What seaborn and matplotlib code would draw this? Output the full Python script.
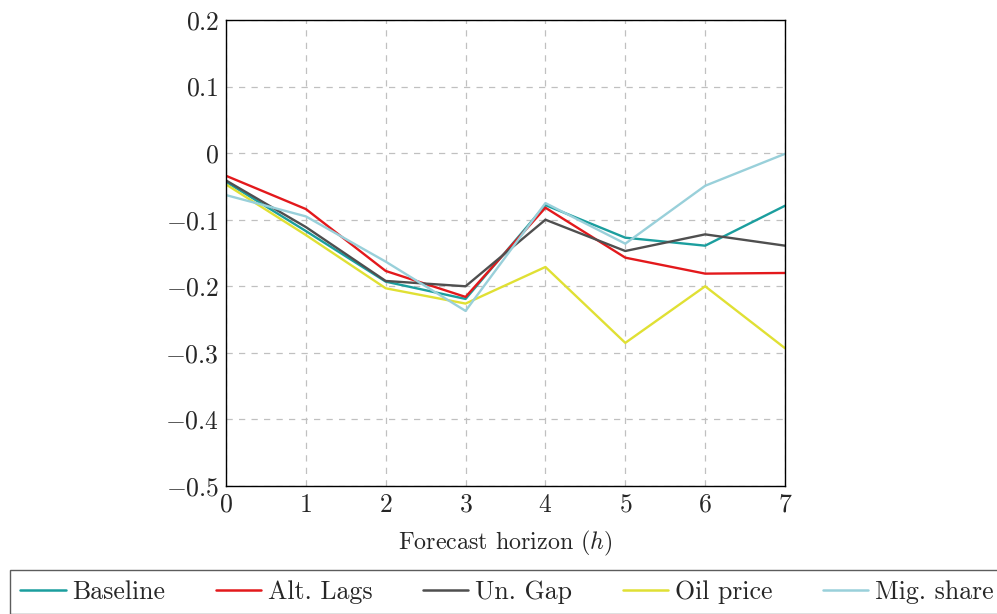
import matplotlib
matplotlib.use("Agg")
import matplotlib.pyplot as plt
import seaborn as sns
import pandas as pd
import numpy as np

horizon = [0, 1, 2, 3, 4, 5, 6, 7]
baseline = [-0.043, -0.117, -0.193, -0.219, -0.078, -0.127, -0.139, -0.079]
alt_lags = [-0.034, -0.084, -0.177, -0.216, -0.082, -0.157, -0.181, -0.180]
un_gap = [-0.041, -0.111, -0.192, -0.200, -0.100, -0.147, -0.122, -0.139]
oil_price = [-0.047, -0.123, -0.203, -0.226, -0.171, -0.285, -0.200, -0.293]
mig_share = [-0.063, -0.095, -0.163, -0.237, -0.075, -0.136, -0.049, -0.001]

series_names = ["Baseline", "Alt. Lags", "Un. Gap", "Oil price", "Mig. share"]
series_values = [baseline, alt_lags, un_gap, oil_price, mig_share]
colors = ["#1b9e9e", "#e3191c", "#4f4f4f", "#e0e034", "#99d0da"]

y_ticks = [0.2, 0.1, 0, -0.1, -0.2, -0.3, -0.4, -0.5]
y_tick_labels = [r"$0.2$", r"$0.1$", r"$0$", r"$-0.1$", r"$-0.2$", r"$-0.3$", r"$-0.4$", r"$-0.5$"]
x_tick_labels = [r"$%d$" % h for h in horizon]

rows = []
for name, vals in zip(series_names, series_values):
    for h, v in zip(horizon, vals):
        rows.append({"h": h, "value": v, "series": name})
df = pd.DataFrame(rows)

sns.set_style("white")
plt.rcParams["font.family"] = ["cmr10", "DejaVu Serif"]
plt.rcParams["mathtext.fontset"] = "cm"
plt.rcParams["axes.unicode_minus"] = True
plt.rcParams["axes.formatter.use_mathtext"] = True

fig = plt.figure(figsize=(9.97, 6.14), dpi=100)
ax = fig.add_axes([226 / 997, 1 - 486 / 614, (785 - 226) / 997, (486 - 20) / 614])

sns.lineplot(data=df, x="h", y="value", hue="series", hue_order=series_names,
             palette=colors, linewidth=1.7, ax=ax, legend=False)

ax.set_xlim(0, 7)
ax.set_ylim(-0.5, 0.2)
ax.set_xticks(horizon)
ax.set_xticklabels(x_tick_labels, fontsize=18.5)
ax.set_yticks(y_ticks)
ax.set_yticklabels(y_tick_labels, fontsize=18.5)
ax.tick_params(length=0, pad=5)
ax.set_xlabel(r"Forecast horizon ($h$)", fontsize=17.3, labelpad=9)
ax.set_ylabel("")
ax.grid(True, color="#c0c0c0", linestyle=(0, (5, 5)), linewidth=0.9)
for s in ax.spines.values():
    s.set_color("black")
    s.set_linewidth(1.0)

handles = [plt.Line2D([], [], color=c, linewidth=1.8) for c in colors]
leg = fig.legend(handles, series_names, loc="upper left",
                 bbox_to_anchor=(10 / 997, 1 - 570 / 614), ncol=5,
                 fontsize=18.6, frameon=True, fancybox=False, edgecolor="#333333",
                 handlelength=1.75, handletextpad=0.27, columnspacing=1.95,
                 borderaxespad=0, borderpad=0.4)
leg.get_frame().set_linewidth(1.0)

fig.savefig("out.png", dpi=100)
